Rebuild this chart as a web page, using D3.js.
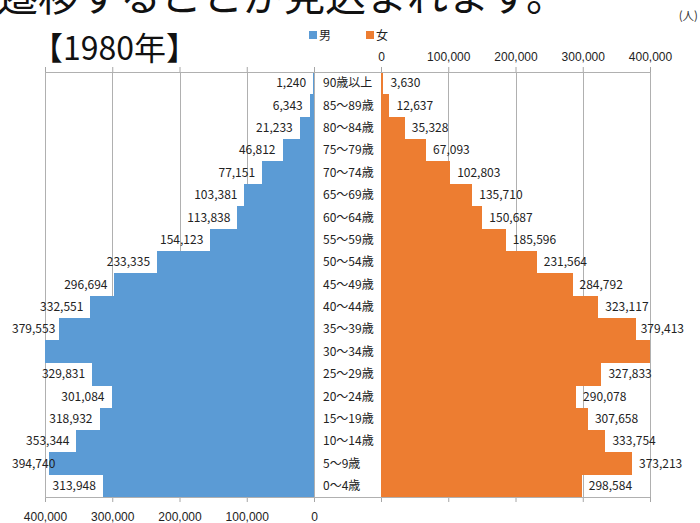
<!DOCTYPE html>
<html>
<head>
<meta charset="utf-8">
<script src="https://cdn.jsdelivr.net/npm/d3@7"></script>
<style>
    body { margin: 0; background: #fff; }
    svg { display: block; font-family: "Noto Sans CJK JP", "Noto Sans", sans-serif; }
    .grid { stroke: #b0b0b0; stroke-width: 1; }
    .axis path, .axis line { stroke: #a6a6a6; }
    .axis text { font-size: 12px; fill: #222; }
    .lbl { font-size: 12px; fill: #222; }
    rect { shape-rendering: crispEdges; }
</style>
</head>
<body>
<script>
// bottom row first (0-4), top row last (90+)
const ages = ["0～4歳", "5～9歳", "10～14歳", "15～19歳", "20～24歳", "25～29歳", "30～34歳",
    "35～39歳", "40～44歳", "45～49歳", "50～54歳", "55～59歳", "60～64歳", "65～69歳",
    "70～74歳", "75～79歳", "80～84歳", "85～89歳", "90歳以上"];
// 30-34 runs off the 400,000 edge in the picture, so its label is not shown: value estimated
const male = [313948, 394740, 353344, 318932, 301084, 329831, 436000, 379553, 332551, 296694,
    233335, 154123, 113838, 103381, 77151, 46812, 21233, 6343, 1240];
const female = [298584, 373213, 333754, 307658, 290078, 327833, 430000, 379413, 323117, 284792,
    231564, 185596, 150687, 135710, 102803, 67093, 35328, 12637, 3630];
const ticks = [0, 100000, 200000, 300000, 400000];
const seriesNames = ["男", "女"];
const colors = ["#5b9bd5", "#ed7d31"];

document.addEventListener("DOMContentLoaded", () => {
    const width = 700;
    const height = 523;
    const top = 72, bottom = 497;
    const maxVal = 400000;
    // labels are pushed back inside these edges, like the spreadsheet does
    const labelMinX = 12, labelMaxX = 684;

    const svg = d3.select('body')
        .append('svg')
        .attr('width', width)
        .attr('height', height);

    const xL = d3.scaleLinear().domain([0, maxVal]).range([314, 45]).clamp(true);
    const xR = d3.scaleLinear().domain([0, maxVal]).range([381, 650]).clamp(true);
    const y = d3.scaleBand().domain(ages.slice().reverse()).range([top, bottom]).padding(0);

    const rows = ages.map((a, i) => ({ age: a, m: male[i], f: female[i] }));
    const fmt = d3.format(",");

    // heading text, cut at the top of the picture
    svg.append('text')
        .attr('x', -3).attr('y', 11)
        .attr('font-size', 41)
        .attr('fill', '#111')
        .text('遷移することが見込まれます。');

    svg.append('text')
        .attr('x', 698).attr('y', 20)
        .attr('font-size', 11.5)
        .attr('fill', '#333')
        .attr('text-anchor', 'end')
        .text('(人)');

    svg.append('text')
        .attr('x', 31).attr('y', 60)
        .attr('font-size', 32)
        .attr('fill', '#111')
        .text('【1980年】');

    // legend
    const leg = svg.append('g');
    seriesNames.forEach((n, i) => {
        const lx = 309 + i * 57;
        leg.append('rect').attr('x', lx).attr('y', 31).attr('width', 8).attr('height', 8).attr('fill', colors[i]);
        leg.append('text').attr('class', 'lbl').attr('x', lx + 10).attr('y', 40).attr('font-size', 14).text(n);
    });

    // grid
    const g = svg.append('g');
    [xL, xR].forEach(sc => {
        g.selectAll(null).data(ticks).enter()
            .append('line')
            .attr('class', 'grid')
            .attr('x1', d => Math.round(sc(d)) + 0.5).attr('x2', d => Math.round(sc(d)) + 0.5)
            .attr('y1', top).attr('y2', bottom);
    });

    // bars
    g.selectAll('.m').data(rows).enter()
        .append('rect')
        .attr('class', 'm')
        .attr('x', d => xL(d.m))
        .attr('width', d => xL(0) - xL(d.m))
        .attr('y', d => y(d.age))
        .attr('height', y.bandwidth() + 0.5)
        .attr('fill', colors[0]);

    g.selectAll('.f').data(rows).enter()
        .append('rect')
        .attr('class', 'f')
        .attr('x', xR(0))
        .attr('width', d => xR(d.f) - xR(0))
        .attr('y', d => y(d.age))
        .attr('height', y.bandwidth() + 0.5)
        .attr('fill', colors[1]);

    // axes
    const axTopR = d3.axisTop(xR).tickValues(ticks).tickFormat(fmt).tickSize(5).tickSizeOuter(0);
    const axTopL = d3.axisTop(xL).tickValues(ticks).tickFormat('').tickSize(5).tickSizeOuter(0);
    const axBotL = d3.axisBottom(xL).tickValues(ticks).tickFormat(fmt).tickSize(5).tickSizeOuter(0);
    const axBotR = d3.axisBottom(xR).tickValues(ticks).tickFormat('').tickSize(5).tickSizeOuter(0);

    svg.append('g').attr('class', 'axis').attr('transform', `translate(0,${top})`).call(axTopR)
        .selectAll('text').attr('dy', '-0.25em');
    svg.append('g').attr('class', 'axis').attr('transform', `translate(0,${top})`).call(axTopL);
    svg.append('g').attr('class', 'axis').attr('transform', `translate(0,${bottom})`).call(axBotL)
        .selectAll('text').attr('dy', '1.3em');
    svg.append('g').attr('class', 'axis').attr('transform', `translate(0,${bottom})`).call(axBotR);
    svg.selectAll('.axis .domain').remove();

    [top, bottom].forEach(yy => {
        svg.append('line')
            .attr('class', 'grid')
            .attr('x1', xL(maxVal)).attr('x2', xR(maxVal))
            .attr('y1', yy + 0.5).attr('y2', yy + 0.5);
    });

    // age labels in the middle column
    svg.selectAll('.age').data(rows).enter()
        .append('text')
        .attr('class', 'lbl')
        .attr('x', 323)
        .attr('y', d => y(d.age) + y.bandwidth() / 2)
        .attr('dy', '0.35em')
        .text(d => d.age);

    // value labels, hidden where the bar runs past the axis end
    svg.selectAll('.ml').data(rows.filter(d => d.m <= maxVal)).enter()
        .append('text')
        .attr('class', 'lbl')
        .attr('y', d => y(d.age) + y.bandwidth() / 2)
        .attr('dy', '0.35em')
        .attr('text-anchor', 'end')
        .text(d => fmt(d.m))
        .attr('x', function (d) {
            const w = this.getComputedTextLength();
            return Math.max(xL(d.m) - 7, labelMinX + w);
        });

    svg.selectAll('.fl').data(rows.filter(d => d.f <= maxVal)).enter()
        .append('text')
        .attr('class', 'lbl')
        .attr('y', d => y(d.age) + y.bandwidth() / 2)
        .attr('dy', '0.35em')
        .text(d => fmt(d.f))
        .attr('x', function (d) {
            const w = this.getComputedTextLength();
            return Math.min(xR(d.f) + 7, labelMaxX - w);
        });
});
</script>
</body>
</html>
